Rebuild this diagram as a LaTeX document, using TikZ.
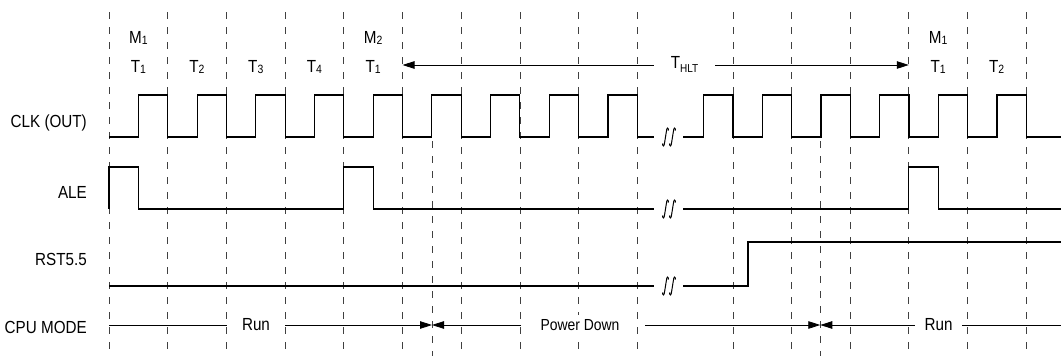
\documentclass[tikz,border=0pt]{standalone}
\usepackage{fontspec}
\setmainfont{Liberation Sans}[FakeStretch=0.87]
\usetikzlibrary{arrows.meta}
\newcommand\sbs[1]{\raisebox{-1.5pt}{\fontsize{12}{13}\selectfont #1}}
\begin{document}
\begin{tikzpicture}[x=1pt,y=-1pt,
  wave/.style={line width=1.1pt, line join=miter},
  gridln/.style={line width=0.8pt, black!75, dash pattern=on 7pt off 8pt},
  mode/.style={line width=0.8pt},
  lbl/.style={inner sep=0pt, anchor=base east, font=\fontsize{17.5}{20}\selectfont},
  cyc/.style={inner sep=0pt, anchor=base, font=\fontsize{17.5}{20}\selectfont},
  tip/.style={-{Triangle[length=12pt,width=7.5pt]}},
  brk/.pic={\foreach \d in {-3.5,3.5}{\draw[line width=1pt] (\d-3,6.5) .. controls (\d-2.8,10) and (\d-1.2,10) .. (\d-0.8,5) -- (\d+0.8,-5) .. controls (\d+1.2,-10) and (\d+2.8,-10) .. (\d+3,-6.5);}},
]
\useasboundingbox (0,0) rectangle (1061,356);
% grid
\foreach \x in {109,167.7,226.4,285.1,343.8,402.5,461.2,519.9,578.6,637.3,733,791.6,850.2,908.8,967.4,1026}
  \draw[gridln] (\x,12) -- (\x,356);
\foreach \x in {432,820.3}
  \draw[gridln] (\x,141) -- (\x,356);
% left labels
\node[lbl] (clk) at (87,127) {CLK (OUT)};
\node[lbl] (ale) at (87,198) {ALE};
\node[lbl] (rst) at (87,265) {RST5.5};
\node[lbl] (cpu) at (87,333) {CPU MODE};
% cycle labels
\node[cyc] (m1a) at (138.4,43) {M\sbs{1}};
\node[cyc] (t1a) at (138.4,72) {T\sbs{1}};
\node[cyc] (t2a) at (197,72) {T\sbs{2}};
\node[cyc] (t3a) at (255.8,72) {T\sbs{3}};
\node[cyc] (t4a) at (314.5,72) {T\sbs{4}};
\node[cyc] (m2b) at (373.2,43) {M\sbs{2}};
\node[cyc] (t1b) at (373.2,72) {T\sbs{1}};
\node[cyc] (m1c) at (938.1,43) {M\sbs{1}};
\node[cyc] (t1c) at (938.1,72) {T\sbs{1}};
\node[cyc] (t2c) at (996.7,72) {T\sbs{2}};
% T_HLT
\coordinate (hl) at (402.5,65);
\coordinate (hr) at (908.8,65);
\node[cyc, inner xsep=17pt] (thlt) at (684.5,68) {T\raisebox{-4.5pt}{\fontsize{11.5}{12}\selectfont HLT}};
\draw[mode,tip] (thlt.west |- hl) -- (hl);
\draw[mode,tip] (thlt.east |- hr) -- (hr);
% CLK
\draw[wave] (109,137) \foreach \i in {1,...,9} { -- ++(29.35,0) -- ++(0,-42) -- ++(29.35,0) -- ++(0,42) } -- (654,137);
\draw[wave] (683,137) -- (703.7,137) \foreach \i in {1,...,6} { -- ++(0,-42) -- ++(29.33,0) -- ++(0,42) -- ++(29.33,0) } -- (1061,137);
% ALE
\draw[wave] (109,209) -- (109,167) -- (138.4,167) -- (138.4,209) -- (343.8,209) -- (343.8,167) -- (373.2,167) -- (373.2,209) -- (654,209);
\draw[wave] (683,209) -- (908.8,209) -- (908.8,167) -- (938.1,167) -- (938.1,209) -- (1061,209);
% RST5.5
\draw[wave] (109,286) -- (654,286);
\draw[wave] (683,286) -- (748,286) -- (748,242) -- (1061,242);
% breaks
\pic at (669,137) {brk};
\pic at (669,209) {brk};
\pic at (669,286) {brk};
% CPU MODE
\coordinate (c0) at (109,325);
\coordinate (a1) at (432,325);
\coordinate (a2) at (820.3,325);
\coordinate (c9) at (1061,325);
\coordinate (pdl) at (521,325);
\coordinate (pdr) at (645,325);
\node[cyc, inner xsep=15pt] (run1) at (256,330) {Run};
\node[cyc, inner xsep=2pt, inner ysep=4pt, fill=white, font=\fontsize{16}{18}\selectfont] (pd) at (580,330) {Power Down};
\node[cyc, inner xsep=9.5pt] (run2) at (938.5,330) {Run};
\draw[mode] (c0) -- (run1.west |- c0);
\draw[mode,tip] (run1.east |- c0) -- (a1);
\draw[mode,tip] (pdl) -- (a1);
\draw[mode,tip] (pdr) -- (a2);
\draw[mode,tip] (run2.west |- c0) -- (a2);
\draw[mode] (run2.east |- c0) -- (c9);
\end{tikzpicture}
\end{document}
